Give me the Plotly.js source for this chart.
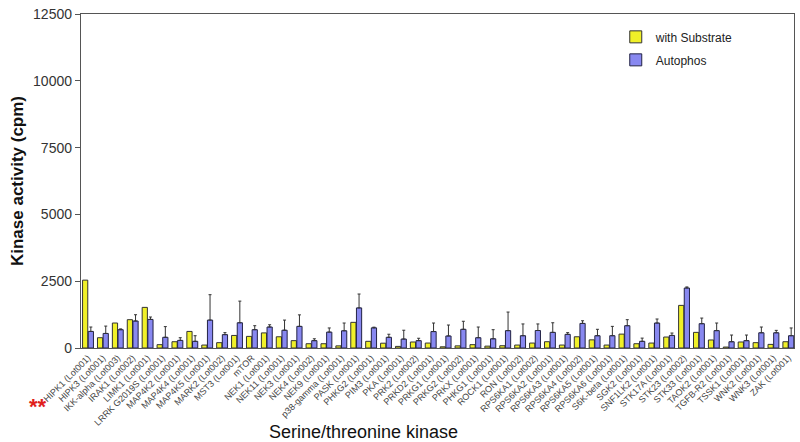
<!DOCTYPE html>
<html>
<head>
<meta charset="utf-8">
<script src="https://cdn.plot.ly/plotly-3.0.1.min.js"></script>
<style>html,body{margin:0;padding:0;background:#fff;}#chart{width:800px;height:442px;}</style>
</head>
<body>
<div id="chart"></div>
<script>
const kinases = ["HIPK1 (Lot001)","HIPK3 (Lot001)","IKK-alpha (Lot003)","IRAK1 (Lot002)","LIMK1 (Lot001)","LRRK G2019S (Lot001)","MAP4K2 (Lot001)","MAP4K4 (Lot001)","MAP4K5 (Lot001)","MARK2 (Lot002)","MST3 (Lot001)","mTOR","NEK1 (Lot001)","NEK11 (Lot001)","NEK3 (Lot001)","NEK4 (Lot002)","NEK9 (Lot001)","p38-gamma (Lot001)","PASK (Lot001)","PHKG2 (Lot001)","PIM3 (Lot001)","PKA (Lot001)","PRK2 (Lot002)","PRKD2 (Lot001)","PRKG1 (Lot001)","PRKG2 (Lot002)","PRKX (Lot001)","PHKG1 (Lot001)","ROCK1 (Lot001)","RON (Lot002)","RPS6KA1 (Lot002)","RPS6KA2 (Lot001)","RPS6KA3 (Lot001)","RPS6KA4 (Lot002)","RPS6KA5 (Lot001)","RPS6KA6 (Lot001)","S6K-beta (Lot001)","SGK2 (Lot001)","SNF1LK2 (Lot001)","STK17A (Lot001)","STK23 (Lot002)","STK33 (Lot001)","TAOK2 (Lot001)","TGFB-R2 (Lot001)","TSSK1 (Lot001)","WNK2 (Lot001)","WNK3 (Lot001)","ZAK (Lot001)"];

const withSubstrate = [2540,385,935,1060,1520,125,235,620,110,200,470,435,565,420,275,160,160,80,960,250,180,60,225,185,45,80,125,70,85,110,185,235,110,420,305,110,520,160,185,410,1595,585,300,35,225,200,135,235];

const autophos = [620,545,685,1010,1070,400,285,250,1045,500,945,685,785,665,810,275,595,645,1500,755,400,335,275,615,450,700,385,345,650,460,655,585,510,920,460,460,835,250,935,470,2245,910,650,235,275,570,570,460];

const autophosErr = [165,275,30,235,90,400,100,210,950,75,810,150,85,380,430,70,155,290,520,25,115,330,90,320,410,300,400,340,695,440,245,360,65,100,240,350,225,120,150,90,40,210,285,250,210,215,90,290];

const data = [
  {
    type: 'bar', name: 'with Substrate', x: kinases, y: withSubstrate, legendgroup: 'a',
    marker: {color: '#f0f028', line: {color: '#333333', width: 1}}
  },
  {
    type: 'bar', name: 'Autophos', x: kinases, y: autophos, legendgroup: 'b',
    marker: {color: '#8888f0', line: {color: '#222244', width: 1}},
    error_y: {type: 'data', symmetric: false, array: autophosErr, arrayminus: autophos.map(() => 0),
              color: '#333333', thickness: 1, width: 1.5}
  }
];

const layout = {
  width: 800, height: 442,
  margin: {l: 81, r: 6, t: 14, b: 94},
  paper_bgcolor: '#ffffff', plot_bgcolor: '#ffffff',
  font: {family: 'Liberation Sans, Arial, sans-serif', color: '#333333'},
  barmode: 'group', bargap: 0.24, bargroupgap: 0.08,
  showlegend: true,
  legend: {x: 0.75, y: 0.975, xanchor: 'left', yanchor: 'top', font: {size: 12, color: '#222'},
           bgcolor: 'rgba(0,0,0,0)', tracegroupgap: 4},
  xaxis: {
    type: 'category', range: [-0.47, 47.38], tickangle: -45,
    tickfont: {size: 9, color: '#444'}, showline: true, linecolor: '#555', linewidth: 1.2,
    mirror: true, ticks: '', showgrid: false, zeroline: false, automargin: false
  },
  yaxis: {
    range: [0, 12500], tickvals: [0, 2500, 5000, 7500, 10000, 12500],
    ticktext: ['0', '2500', '5000', '7500', '10000', '12500'],
    tickfont: {size: 14, color: '#333'}, ticks: 'outside', ticklen: 5, tickcolor: '#555',
    showline: true, linecolor: '#555', linewidth: 1.2, mirror: true,
    showgrid: false, zeroline: false,
    title: {text: '<b>Kinase activity (cpm)</b>', font: {size: 17, color: '#111'}, standoff: 5}
  },
  annotations: [
    {xref: 'paper', yref: 'paper', x: (363 - 81) / 713, y: -(432 - 348) / 334, xanchor: 'center', yanchor: 'middle',
     text: 'Serine/threonine kinase', showarrow: false, font: {size: 18, color: '#111'}},
    {xref: 'paper', yref: 'paper', x: (38 - 81) / 713, y: -(407 - 348) / 334, xanchor: 'center', yanchor: 'middle',
     text: '<b>**</b>', showarrow: false, font: {size: 22, color: '#e0201c'}}
  ]
};

Plotly.newPlot('chart', data, layout, {displayModeBar: false, staticPlot: true});
</script>
</body>
</html>
